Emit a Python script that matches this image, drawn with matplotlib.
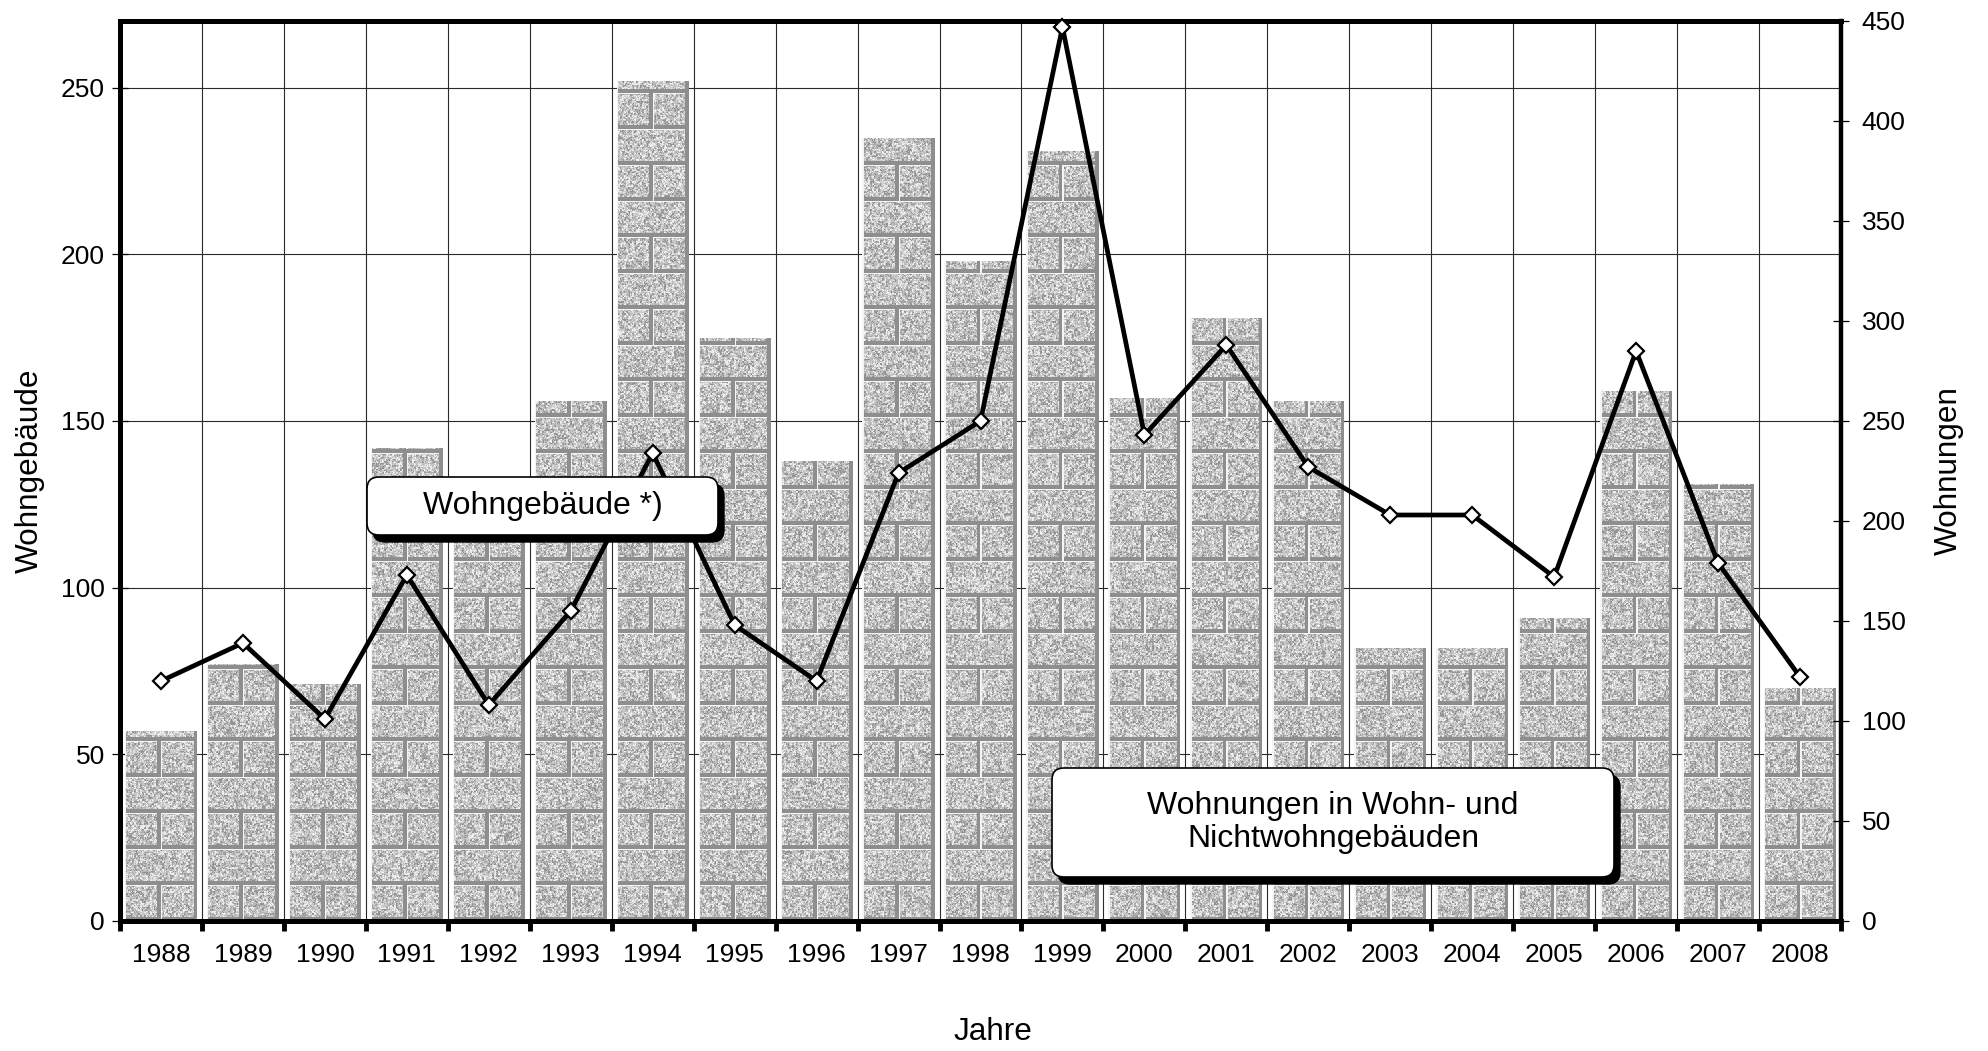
import numpy as np
import matplotlib
matplotlib.use("Agg")
import matplotlib.pyplot as plt
from matplotlib.patches import FancyBboxPatch, PathPatch
from matplotlib.path import Path

plt.rcParams['font.family'] = ['Liberation Sans', 'DejaVu Sans']

# ---------------- data ----------------
jahre = ['1988', '1989', '1990', '1991', '1992', '1993', '1994', '1995', '1996', '1997',
         '1998', '1999', '2000', '2001', '2002', '2003', '2004', '2005', '2006', '2007', '2008']
wohngebaeude = [57, 77, 71, 142, 124, 156, 252, 175, 138, 235,
                198, 231, 157, 181, 156, 82, 82, 91, 159, 131, 70]
wohnungen = [120, 139, 101, 173, 108, 155, 234, 148, 120, 224,
             250, 447, 243, 288, 227, 203, 203, 172, 285, 179, 122]
left_ticks = [0, 50, 100, 150, 200, 250]
right_ticks = [0, 50, 100, 150, 200, 250, 300, 350, 400, 450]

# ---------------- figure ----------------
W_PX, H_PX, DPI = 1988, 1051, 100
fig = plt.figure(figsize=(W_PX / DPI, H_PX / DPI), dpi=DPI)
ax_l, ax_r, ax_t, ax_b = 120, 1841, 21, 921
ax = fig.add_axes([ax_l / W_PX, 1 - ax_b / H_PX, (ax_r - ax_l) / W_PX, (ax_b - ax_t) / H_PX])
ax2 = ax.twinx()

n = len(jahre)
x = np.arange(n)
bar_w = 0.88

ax.set_xlim(-0.5, n - 0.5)
ax.set_ylim(0, 270)
ax2.set_ylim(0, 450)

bars = ax.bar(x, wohngebaeude, width=bar_w, color='#bababa', edgecolor='none', zorder=1)

# brick texture, clipped to the bars
def hash01(X, Y, a, b):
    hs = (X.astype(np.uint64) * np.uint64(a) + Y.astype(np.uint64) * np.uint64(b)) & np.uint64(0xffffffff)
    hs = ((hs ^ (hs >> np.uint64(13))) * np.uint64(1274126177)) & np.uint64(0xffffffff)
    hs = hs ^ (hs >> np.uint64(16))
    return hs.astype(float) / 2.0 ** 32

def brick_texture(w, h, slot, bw, row_h):
    X, Y = np.meshgrid(np.arange(w), np.arange(h))
    u = ((X + 0.5) % slot) - (slot - bw) / 2
    r = np.floor(Y / row_h)
    v = Y - r * row_h
    split = (r % 2) == 0
    half = bw / 2
    right = split & (u >= half)
    ub = np.where(right, u - half, u)
    bwid = np.where(split, half, bw)
    n1 = hash01(X, Y, 374761393, 668265263)
    n2 = hash01(X // 2, Y // 2, 2246822519, 3266489917)
    nz = 0.45 * n1 + 0.55 * n2
    g = np.select([nz < 0.3, nz < 0.45, nz < 0.68], [0.58, 0.70, 0.79], 0.93)
    g = np.where(v < 3.5, 0.56, g)
    g = np.where(v >= row_h - 1.5, 0.96, g)
    g = np.where(ub > bwid - 3.5, 0.56, g)
    g = np.where(ub < 1.5, 0.96, g)
    return np.dstack([g, g, g])

wpx = ax_r - ax_l
hpx = ax_b - ax_t
tex = brick_texture(wpx, hpx, wpx / n, bar_w * wpx / n, 36.0)
im = ax.imshow(tex, extent=(-0.5, n - 0.5, 0, 270), origin='lower', aspect='auto',
               interpolation='nearest', zorder=1.5)
paths = [b.get_path().transformed(b.get_patch_transform()) for b in bars]
clip = PathPatch(Path.make_compound_path(*paths), transform=ax.transData, fc='none', ec='none')
im.set_clip_path(clip)

# line
ax2.plot(x, wohnungen, color='black', lw=3.4, marker='D', ms=8.5, mfc='white',
         mec='black', mew=1.6, clip_on=False, zorder=3)

# axes styling
ax.set_axisbelow(True)
ax.set_xticks(x)
ax.set_xticklabels(jahre)
ax.set_xticks(np.arange(-0.5, n, 1), minor=True)
ax.set_yticks(left_ticks)
ax2.set_yticks(right_ticks)
ax.grid(axis='y', which='major', color='#2a2a2a', lw=0.8)
ax.grid(axis='x', which='minor', color='#2a2a2a', lw=0.8)
ax.grid(axis='x', which='major', visible=False)

ax.tick_params(axis='x', which='major', length=0, pad=16, labelsize=19)
ax.tick_params(axis='x', which='minor', length=7, width=3.5, direction='out', color='black')
ax.tick_params(axis='y', which='major', length=11, width=0.9, direction='inout', pad=5.3, labelsize=19)
ax2.tick_params(axis='y', which='major', length=11, width=0.9, direction='inout', pad=9.5, labelsize=19)

for s in ['left', 'top', 'bottom']:
    ax.spines[s].set_linewidth(3.6)
ax.spines['right'].set_visible(False)
for s in ['left', 'top', 'bottom']:
    ax2.spines[s].set_visible(False)
ax2.spines['right'].set_linewidth(3.2)

ax.set_ylabel('Wohngebäude', fontsize=22.7)
ax.yaxis.set_label_coords(-0.0436, 0.5)
ax2.set_ylabel('Wohnungen', fontsize=22.7)
ax2.yaxis.set_label_coords(1.0538, 0.5)
ax.set_xlabel('Jahre', fontsize=22.7)
ax.xaxis.set_label_coords(0.507, -0.107)

# label boxes with drop shadow
def label_box(x0, y0, w, h, text):
    tr = fig.dpi_scale_trans
    style = "round,pad=0,rounding_size=0.12"
    fig.add_artist(FancyBboxPatch((x0 + 0.06, y0 - 0.07), w, h, boxstyle=style, transform=tr,
                                  fc='black', ec='black', lw=1, zorder=10))
    fig.add_artist(FancyBboxPatch((x0, y0), w, h, boxstyle=style, transform=tr,
                                  fc='white', ec='black', lw=1.2, zorder=11))
    fig.text(x0 + w / 2, y0 + h / 2, text, transform=tr, ha='center', va='center',
             fontsize=23, zorder=12, linespacing=1.15)

label_box(3.67, 5.16, 3.51, 0.58, 'Wohngebäude *)')
label_box(10.52, 1.74, 5.62, 1.09, 'Wohnungen in Wohn- und\nNichtwohngebäuden')

fig.savefig('out.png', dpi=DPI)
